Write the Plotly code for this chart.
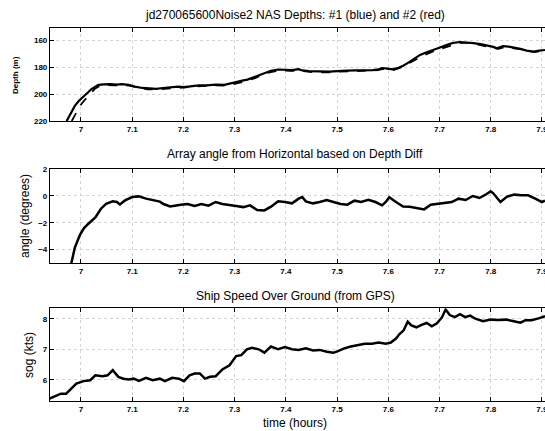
import plotly.graph_objects as go

# ---------------- data ----------------
depth1_t = [6.972, 6.980, 6.988, 6.996, 7.005, 7.013, 7.021, 7.034, 7.045, 7.057, 7.070, 7.080, 7.093,
            7.105, 7.120, 7.135, 7.147, 7.160, 7.175, 7.190, 7.201, 7.215, 7.230, 7.245, 7.263, 7.280,
            7.290, 7.303, 7.315, 7.325, 7.337, 7.350, 7.362, 7.371, 7.385, 7.398, 7.412, 7.425, 7.432,
            7.445, 7.460, 7.475, 7.486, 7.500, 7.512, 7.520, 7.535, 7.554, 7.570, 7.581, 7.588, 7.598,
            7.609, 7.620, 7.629, 7.640, 7.650, 7.662, 7.675, 7.690, 7.701, 7.715, 7.727, 7.740, 7.755,
            7.766, 7.780, 7.793, 7.805, 7.812, 7.824, 7.835, 7.844, 7.858, 7.870, 7.883, 7.895, 7.906]
depth1_v = [220, 214, 208.8, 205, 202.2, 199, 196.1, 193.2, 192.8, 192.6, 193, 192.6, 193.2,
            194.5, 195.5, 196, 196.2, 195.5, 195.2, 194.5, 194.9, 194.2, 193.6, 193.5, 193, 193.2,
            192.2, 191.2, 190, 189.3, 187.6, 186, 184, 182.7, 181.8, 182.2, 182.2, 181.5, 182.5,
            183, 183.3, 183.5, 183.4, 183, 182.5, 182.7, 182.5, 182.4, 182.3, 181.6, 180.7, 181.2,
            181.7, 180.5, 179, 176.5, 174, 171, 169, 167.2, 165.5, 163.5, 162, 161.4, 161.6,
            162.2, 163, 163.9, 165, 166, 164.4, 164.8, 165.3, 166.5, 167.8, 168.5, 167.8, 167.3]

depth2_t = [6.982, 6.990, 6.998, 7.006, 7.014, 7.020, 7.027, 7.037, 7.050, 7.065, 7.080, 7.095, 7.110,
            7.130, 7.150, 7.170, 7.190, 7.210, 7.235, 7.260, 7.285, 7.305, 7.320, 7.340, 7.360, 7.375,
            7.390, 7.410, 7.430, 7.455, 7.480, 7.505, 7.530, 7.555, 7.580, 7.590, 7.610, 7.625, 7.640,
            7.655, 7.670, 7.690, 7.705, 7.720, 7.740, 7.760, 7.780, 7.800, 7.815, 7.828, 7.845, 7.865,
            7.885, 7.906]
depth2_v = [220, 214, 208.8, 205, 201.5, 198.7, 196.1, 193.9, 193.4, 193.6, 193.3, 193.8, 195,
            196.5, 196.6, 195.9, 195.1, 194.8, 194.1, 193.6, 193.7, 192, 190.6, 188.2, 184.8, 183.3,
            182.6, 182.8, 182.9, 183.8, 184, 183.4, 183.2, 182.9, 182.3, 181.4, 182.2, 180.2, 177.2,
            174.3, 171.2, 168, 166.1, 164.1, 162, 162.1, 163.5, 165.4, 166.5, 165, 165.8, 167.2,
            168.9, 167.8]

angle_t = [6.981, 6.988, 6.998, 7.006, 7.015, 7.028, 7.039, 7.049, 7.062, 7.070, 7.076, 7.086, 7.100,
           7.113, 7.127, 7.140, 7.154, 7.161, 7.174, 7.195, 7.208, 7.222, 7.235, 7.249, 7.263, 7.276,
           7.290, 7.303, 7.317, 7.330, 7.344, 7.358, 7.371, 7.385, 7.398, 7.412, 7.425, 7.432, 7.439,
           7.453, 7.466, 7.480, 7.493, 7.507, 7.520, 7.534, 7.547, 7.561, 7.575, 7.588, 7.595, 7.602,
           7.615, 7.629, 7.642, 7.656, 7.670, 7.683, 7.697, 7.710, 7.724, 7.737, 7.751, 7.765, 7.778,
           7.792, 7.800, 7.805, 7.819, 7.832, 7.846, 7.860, 7.873, 7.887, 7.900, 7.906]
angle_v = [-5.05, -3.85, -2.9, -2.4, -2.05, -1.6, -0.95, -0.58, -0.4, -0.45, -0.63, -0.33, -0.08,
           -0.03, -0.2, -0.3, -0.42, -0.6, -0.78, -0.65, -0.6, -0.75, -0.6, -0.72, -0.45, -0.6,
           -0.7, -0.75, -0.83, -0.7, -1.05, -1.08, -0.8, -0.4, -0.45, -0.55, -0.2, -0.08, -0.4,
           -0.55, -0.45, -0.3, -0.45, -0.6, -0.65, -0.35, -0.45, -0.28, -0.45, -0.7, -0.45, -0.1,
           -0.45, -0.78, -0.8, -0.9, -1.0, -0.65, -0.6, -0.55, -0.45, -0.2, -0.3, 0.0, -0.15,
           0.15, 0.35, 0.2, -0.45, -0.05, 0.1, 0.05, 0.05, -0.2, -0.45, -0.35]

sog_t = [6.937, 6.950, 6.961, 6.971, 6.981, 6.991, 7.005, 7.018, 7.028, 7.042, 7.052, 7.062, 7.073,
         7.083, 7.093, 7.103, 7.113, 7.127, 7.140, 7.154, 7.164, 7.178, 7.191, 7.201, 7.212, 7.222,
         7.232, 7.242, 7.252, 7.263, 7.276, 7.290, 7.303, 7.313, 7.324, 7.334, 7.347, 7.358, 7.371,
         7.385, 7.398, 7.412, 7.425, 7.439, 7.453, 7.466, 7.480, 7.493, 7.503, 7.514, 7.527, 7.541,
         7.554, 7.568, 7.581, 7.595, 7.605, 7.615, 7.622, 7.630, 7.638, 7.645, 7.655, 7.665, 7.675,
         7.685, 7.695, 7.705, 7.712, 7.720, 7.730, 7.740, 7.750, 7.760, 7.770, 7.785, 7.800, 7.815,
         7.830, 7.845, 7.858, 7.868, 7.880, 7.895, 7.906]
sog_v = [5.38, 5.46, 5.55, 5.55, 5.71, 5.88, 5.96, 5.99, 6.15, 6.12, 6.15, 6.32, 6.10,
         6.04, 6.01, 6.04, 5.97, 6.07, 5.99, 6.04, 5.96, 6.07, 6.04, 5.96, 6.15, 6.21,
         6.21, 6.04, 6.10, 6.12, 6.34, 6.48, 6.78, 6.81, 7.0, 7.05, 7.0, 6.89, 7.09,
         7.0, 7.07, 7.0, 6.98, 7.03, 6.96, 6.98, 6.92, 6.89, 6.95, 7.03, 7.09, 7.14,
         7.18, 7.18, 7.22, 7.18, 7.22, 7.35, 7.5, 7.62, 7.9, 7.78, 7.72, 7.8, 7.86,
         7.75, 7.85, 8.05, 8.3, 8.12, 8.05, 8.15, 8.05, 8.1, 8.0, 7.92, 7.97, 7.96,
         7.97, 7.92, 7.87, 7.95, 7.95, 8.02, 8.08]

x_ticks = [7.0, 7.1, 7.2, 7.3, 7.4, 7.5, 7.6, 7.7, 7.8, 7.9]
x_ticklabels = ["7", "7.1", "7.2", "7.3", "7.4", "7.5", "7.6", "7.7", "7.8", "7.9"]
depth_ticks = [160, 180, 200, 220]
angle_ticks = [-4, -2, 0, 2]
sog_ticks = [6, 7, 8]

titles = ["jd270065600Noise2 NAS Depths: #1 (blue) and #2 (red)",
          "Array angle from Horizontal based on Depth Diff",
          "Ship Speed Over Ground (from GPS)"]

# ---------------- figure ----------------
FONT = "Liberation Sans"
fig = go.Figure()
fig.add_trace(go.Scatter(x=depth1_t, y=depth1_v, mode="lines", line=dict(color="black", width=2.2),
                         xaxis="x", yaxis="y", showlegend=False))
fig.add_trace(go.Scatter(x=depth2_t, y=depth2_v, mode="lines",
                         line=dict(color="black", width=1.8, dash="dash"),
                         xaxis="x", yaxis="y", showlegend=False))
fig.add_trace(go.Scatter(x=angle_t, y=angle_v, mode="lines", line=dict(color="black", width=2.5),
                         xaxis="x2", yaxis="y2", showlegend=False))
fig.add_trace(go.Scatter(x=sog_t, y=sog_v, mode="lines", line=dict(color="black", width=2.5),
                         xaxis="x3", yaxis="y3", showlegend=False))

xr = [6.9395, 7.906]
tickfont = dict(family=FONT, size=8, color="black", weight="bold")
GRID = "#d4d4d4"


def xax(anchor):
    return dict(range=xr, domain=[0, 1], anchor=anchor, tickvals=x_ticks, ticktext=x_ticklabels,
                ticks="inside", ticklen=4, tickcolor="black", showline=True, linecolor="black",
                linewidth=1.2, mirror="ticks", showgrid=True, gridcolor=GRID, griddash="dot",
                gridwidth=1, zeroline=False, tickfont=tickfont, ticklabeloverflow="allow")


def yax(anchor, dom, rng, tv):
    return dict(range=rng, domain=dom, anchor=anchor, tickvals=tv, ticks="inside", ticklen=4,
                tickcolor="black", showline=True, linecolor="black", linewidth=1.2, mirror=False,
                showgrid=True, gridcolor=GRID, griddash="dot", gridwidth=1, zeroline=False,
                tickfont=tickfont, ticklabeloverflow="allow")


fig.update_layout(
    width=545, height=431,
    margin=dict(l=50, r=0, t=28, b=30, autoexpand=False),
    paper_bgcolor="white", plot_bgcolor="white",
    font=dict(family=FONT, color="black"),
    xaxis=xax("y"), xaxis2=xax("y2"), xaxis3=xax("y3"),
    yaxis=yax("x", [0.7507, 1.0], [220, 151], depth_ticks),
    yaxis2=yax("x2", [0.37, 0.6233], [-5, 2.05], angle_ticks),
    yaxis3=yax("x3", [0.0, 0.2485], [5.31, 8.34], sog_ticks),
)

ann = []
# titles (pixel y positions converted to paper coords: plot area 28..401)
for txt, ypx in zip(titles, [15, 154, 296]):
    ann.append(dict(text=txt, xref="paper", yref="paper", x=0.495, y=(401 - ypx) / 373,
                    xanchor="center", yanchor="middle", showarrow=False,
                    font=dict(family=FONT, size=12, color="black")))
# y axis titles
for txt, xpx, ypx, sz in [("Depth (m)", 15, 75, 8), ("angle (degrees)", 25, 216, 12),
                          ("sog (kts)", 29, 355, 12)]:
    ann.append(dict(text=txt, xref="paper", yref="paper", x=(xpx - 50) / 495, y=(401 - ypx) / 373,
                    xanchor="center", yanchor="middle", textangle=-90, showarrow=False,
                    font=dict(family=FONT, size=sz, color="black",
                              weight="bold" if sz < 10 else "normal")))
ann.append(dict(text="time (hours)", xref="paper", yref="paper", x=0.495, y=(401 - 423) / 373,
                xanchor="center", yanchor="middle", showarrow=False,
                font=dict(family=FONT, size=12, color="black")))
fig.update_layout(annotations=ann)

fig.write_html("out.html", config={"displayModeBar": False},
               post_script="document.body.style.margin='0';document.body.style.padding='0';")
